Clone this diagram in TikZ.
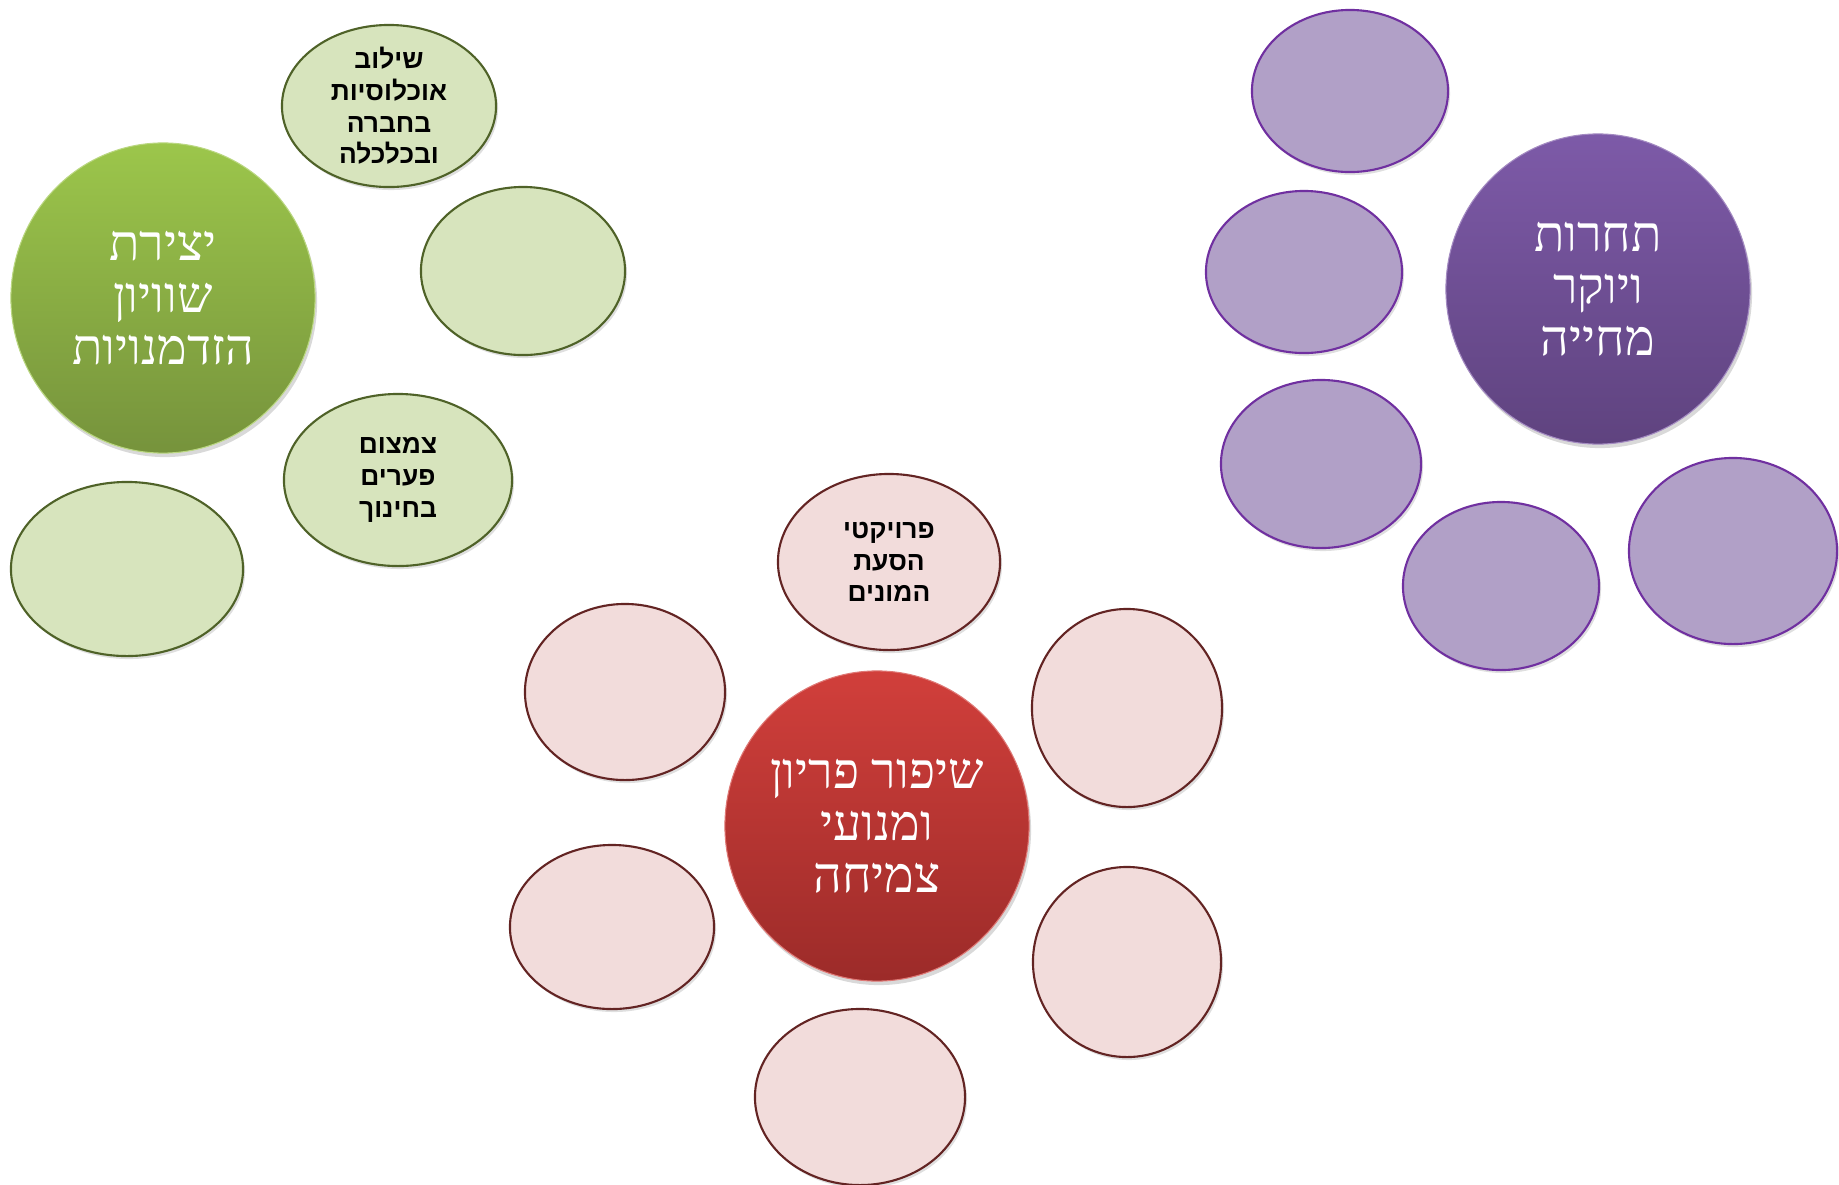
\documentclass[tikz,border=0pt]{standalone}
\usepackage{fontspec}
\usetikzlibrary{shapes.geometric,shadows}
\setmainfont{Liberation Serif}
\newfontfamily\hebserif[Script=Hebrew]{Liberation Serif}
\newfontfamily\hebsans[Script=Hebrew]{Liberation Sans}
\TeXXeTstate=1
\definecolor{greentop}{HTML}{9CC64B}
\definecolor{greenbot}{HTML}{76933C}
\definecolor{greenleaf}{HTML}{D7E4BD}
\definecolor{greenline}{HTML}{4F6228}
\definecolor{redtop}{HTML}{D13F3B}
\definecolor{redbot}{HTML}{9C2B29}
\definecolor{redleaf}{HTML}{F2DCDB}
\definecolor{redline}{HTML}{632423}
\definecolor{purptop}{HTML}{7D5AA8}
\definecolor{purpbot}{HTML}{5F437F}
\definecolor{purpleaf}{HTML}{B1A0C7}
\definecolor{purpline}{HTML}{7030A0}
\newcommand{\rl}[1]{\beginR #1\endR}

\begin{document}
\begin{tikzpicture}[x=0.01cm,y=-0.01cm]
\tikzstyle{every node}+=[inner sep=0pt]
\tikzstyle{hub}=[ellipse, minimum width=3.04cm, minimum height=3.1cm, text=white, align=center,
  font=\hebserif\fontsize{14.2}{14.8}\selectfont,
  drop shadow={opacity=0.3, shadow xshift=0.02cm, shadow yshift=-0.04cm}]
\tikzstyle{leaf}=[ellipse, draw, line width=0.6pt,
  drop shadow={opacity=0.25, shadow xshift=0.02cm, shadow yshift=-0.03cm}]
\tikzstyle{leaftext}=[align=center, font=\hebsans\bfseries\fontsize{7.5}{9}\selectfont]
\useasboundingbox (0,0) rectangle (1839,1184);

% green group
\node[hub, top color=greentop, bottom color=greenbot, draw=greentop!70!white, line width=0.3pt] (eq) at (163,298)
  {\rl{יצירת}\\\rl{שוויון}\\\rl{הזדמנויות}};
\node[leaf, fill=greenleaf, draw=greenline, minimum width=2.14cm, minimum height=1.62cm] (eq1) at (389,106) {};
\node[leaftext] (eq1t) at (eq1) {\rl{שילוב}\\\rl{אוכלוסיות}\\\rl{בחברה}\\\rl{ובכלכלה}};
\node[leaf, fill=greenleaf, draw=greenline, minimum width=2.04cm, minimum height=1.68cm] (eq2) at (523,271) {};
\node[leaf, fill=greenleaf, draw=greenline, minimum width=2.28cm, minimum height=1.72cm] (eq3) at (398,480) {};
\node[leaftext] (eq3t) at (eq3) {\rl{צמצום}\\\rl{פערים}\\\rl{בחינוך}};
\node[leaf, fill=greenleaf, draw=greenline, minimum width=2.32cm, minimum height=1.74cm] (eq4) at (127,569) {};

% red group
\node[hub, top color=redtop, bottom color=redbot, draw=redtop!70!white, line width=0.3pt] (gr) at (877,826)
  {\rl{שיפור פריון}\\\rl{ומנועי}\\\rl{צמיחה}};
\node[leaf, fill=redleaf, draw=redline, minimum width=2.22cm, minimum height=1.76cm] (gr1) at (889,562) {};
\node[leaftext] (gr1t) at (gr1) {\rl{פרויקטי}\\\rl{הסעת}\\\rl{המונים}};
\node[leaf, fill=redleaf, draw=redline, minimum width=2.0cm, minimum height=1.76cm] (gr2) at (625,692) {};
\node[leaf, fill=redleaf, draw=redline, minimum width=1.9cm, minimum height=1.98cm] (gr3) at (1127,708) {};
\node[leaf, fill=redleaf, draw=redline, minimum width=2.04cm, minimum height=1.64cm] (gr4) at (612,927) {};
\node[leaf, fill=redleaf, draw=redline, minimum width=1.88cm, minimum height=1.9cm] (gr5) at (1127,962) {};
\node[leaf, fill=redleaf, draw=redline, minimum width=2.1cm, minimum height=1.76cm] (gr6) at (860,1097) {};

% purple group
\node[hub, top color=purptop, bottom color=purpbot, draw=purptop!70!white, line width=0.3pt] (cost) at (1598,289)
  {\rl{תחרות}\\\rl{ויוקר}\\\rl{מחייה}};
\node[leaf, fill=purpleaf, draw=purpline, minimum width=1.96cm, minimum height=1.62cm] (cost1) at (1350,91) {};
\node[leaf, fill=purpleaf, draw=purpline, minimum width=1.96cm, minimum height=1.62cm] (cost2) at (1304,272) {};
\node[leaf, fill=purpleaf, draw=purpline, minimum width=2.0cm, minimum height=1.68cm] (cost3) at (1321,464) {};
\node[leaf, fill=purpleaf, draw=purpline, minimum width=1.96cm, minimum height=1.68cm] (cost4) at (1501,586) {};
\node[leaf, fill=purpleaf, draw=purpline, minimum width=2.08cm, minimum height=1.86cm] (cost5) at (1733,551) {};
\end{tikzpicture}
\end{document}
